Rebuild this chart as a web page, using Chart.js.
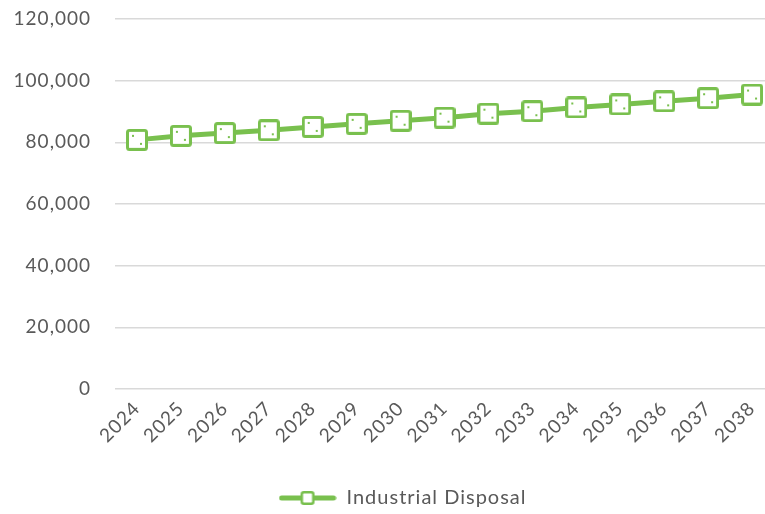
<!DOCTYPE html>
<html>
<head>
<meta charset="utf-8">
<script src="https://cdn.jsdelivr.net/npm/chart.js@4.4.1/dist/chart.umd.min.js"></script>
<style>
  html, body { margin: 0; padding: 0; background: #ffffff; overflow: hidden; }
  #wrap { position: relative; width: 774px; height: 514px; }
</style>
</head>
<body>
<div id="wrap"><canvas id="chart"></canvas></div>
<script>
// Projected industrial disposal by year
const years = ['2024', '2025', '2026', '2027', '2028', '2029', '2030', '2031',
               '2032', '2033', '2034', '2035', '2036', '2037', '2038'];
const industrialDisposal = [80800, 82100, 83000, 83900, 85000, 86000, 87000, 88000,
                            89300, 90100, 91300, 92300, 93300, 94300, 95500];
const seriesName = 'Industrial Disposal';
const yTicks = [0, 20000, 40000, 60000, 80000, 100000, 120000];

const GREEN = '#79C04E';
const TEXT = '#595959';
const FONT = 'Lato, "Open Sans", sans-serif';
const AXIS_FONT_SIZE = 19;
const LEGEND_FONT_SIZE = 20;

// Square marker: white fill, green outline, small pattern dots inside
function makeMarker(size, border, dots) {
  const c = document.createElement('canvas');
  c.width = size; c.height = size;
  const g = c.getContext('2d');
  const h = border / 2;
  g.fillStyle = '#ffffff';
  g.fillRect(h, h, size - border, size - border);
  g.strokeStyle = GREEN;
  g.lineWidth = border;
  g.lineJoin = 'round';
  g.beginPath();
  g.roundRect ? g.roundRect(h, h, size - border, size - border, 2) : g.rect(h, h, size - border, size - border);
  g.stroke();
  if (dots) {
    g.fillStyle = GREEN;
    g.fillRect(Math.round(size * 0.3) - 1, Math.round(size * 0.3) - 1, 2, 2);
    g.fillRect(Math.round(size * 0.68) - 1, Math.round(size * 0.7) - 1, 2, 2);
  }
  return c;
}

// Legend symbol: a short line segment with a marker in the middle
function makeLegendSymbol() {
  const w = 58, hgt = 16;
  const c = document.createElement('canvas');
  c.width = w; c.height = hgt;
  const g = c.getContext('2d');
  g.strokeStyle = GREEN;
  g.lineWidth = 5;
  g.lineCap = 'round';
  g.beginPath();
  g.moveTo(3, hgt / 2);
  g.lineTo(w - 3, hgt / 2);
  g.stroke();
  const m = makeMarker(14, 2.5, false);
  g.drawImage(m, (w - 14) / 2, (hgt - 14) / 2);
  return c;
}

const pointMarker = makeMarker(22, 3, true);
const legendSymbol = makeLegendSymbol();

// Slightly widened text spacing for all chart labels; legend nudged right and down
const tweaks = {
  id: 'tweaks',
  beforeLayout(chart) { chart.ctx.letterSpacing = '1px'; },
  afterLayout(chart) {
    const lg = chart.legend;
    if (lg) {
      lg.left += 31;
      lg.top += 4;
      lg.bottom += 4;
    }
  },
  beforeDraw(chart) { chart.ctx.letterSpacing = '1px'; }
};

new Chart(document.getElementById('chart'), {
  type: 'line',
  data: {
    labels: years,
    datasets: [{
      label: seriesName,
      data: industrialDisposal,
      borderColor: GREEN,
      backgroundColor: '#ffffff',
      borderWidth: 5,
      pointStyle: pointMarker,
      pointRadius: 11,
      pointHoverRadius: 11,
      tension: 0,
      fill: false,
      clip: false
    }]
  },
  options: {
    responsive: true,
    maintainAspectRatio: false,
    animation: false,
    layout: { autoPadding: false, padding: { top: 19, left: 0, right: 0, bottom: 0 } },
    plugins: {
      tooltip: { enabled: false },
      legend: {
        position: 'bottom',
        labels: {
          usePointStyle: true,
          pointStyle: legendSymbol,
          pointStyleWidth: 58,
          color: TEXT,
          font: { family: FONT, size: LEGEND_FONT_SIZE },
          padding: 6
        }
      }
    },
    scales: {
      x: {
        offset: true,
        grid: { display: false, drawTicks: false },
        border: { display: false },
        ticks: {
          color: TEXT,
          font: { family: FONT, size: AXIS_FONT_SIZE },
          minRotation: 45,
          maxRotation: 45,
          padding: 8,
          autoSkip: false
        },
        afterFit(scale) {
          scale.height = 89;
          scale.paddingLeft = 0;
          scale.paddingRight = 0;
        }
      },
      y: {
        min: 0,
        max: 120000,
        afterBuildTicks(scale) { scale.ticks = yTicks.map(v => ({ value: v })); },
        grid: { color: '#d9d9d9', lineWidth: 1.5, drawTicks: false },
        border: { display: false },
        ticks: {
          color: TEXT,
          font: { family: FONT, size: AXIS_FONT_SIZE },
          padding: 24,
          callback: v => v.toLocaleString('en-US')
        },
        afterFit(scale) {
          scale.width = 115;
          scale.paddingTop = 0;
          scale.paddingBottom = 0;
        }
      }
    }
  },
  plugins: [tweaks]
});
</script>
</body>
</html>
